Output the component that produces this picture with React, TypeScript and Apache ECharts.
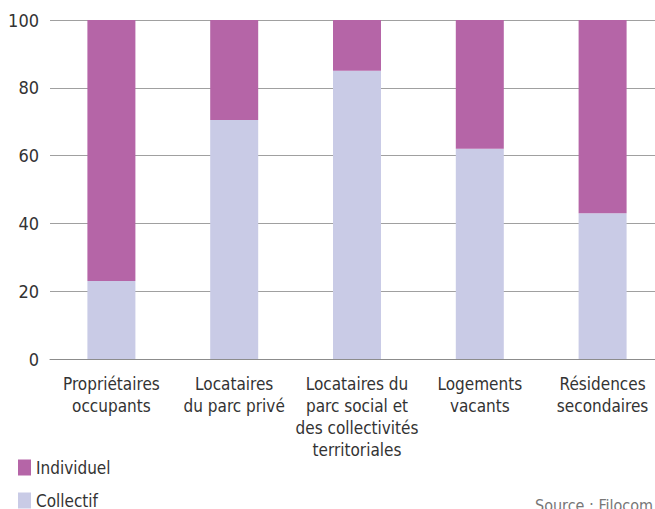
import React, { useEffect, useRef } from "react";
import * as echarts from "echarts";

const categories = [
  "Propriétaires\noccupants",
  "Locataires\ndu parc privé",
  "Locataires du\nparc social et\ndes collectivités\nterritoriales",
  "Logements\nvacants",
  "Résidences\nsecondaires",
];
const collectif = [23, 70.5, 85, 62, 43];
const individuel = [77, 29.5, 15, 38, 57];
const yTicks = [0, 20, 40, 60, 80, 100];

const FONT = "'DejaVu Sans Condensed', 'Liberation Sans Narrow', 'Open Sans', sans-serif";

export default function App() {
  const ref = useRef<HTMLDivElement>(null);
  useEffect(() => {
    if (!ref.current) return;
    const chart = echarts.init(ref.current, undefined, { renderer: "svg" });
    chart.setOption({
      animation: false,
      textStyle: { fontFamily: FONT },
      grid: { left: 50, top: 20, width: 614, height: 339, containLabel: false, outerBoundsMode: "none" },
      legend: {
        data: ["Individuel", "Collectif"],
        orient: "vertical",
        left: 18,
        top: 459,
        padding: 0,
        itemWidth: 13,
        itemHeight: 16,
        itemGap: 16,
        icon: "rect",
        textStyle: { fontFamily: FONT, fontSize: 17, color: "#333" },
      },
      xAxis: {
        type: "category",
        data: categories,
        axisTick: { show: false },
        axisLine: { lineStyle: { color: "#8c8c8c", width: 1 } },
        axisLabel: {
          interval: 0,
          fontFamily: FONT,
          fontSize: 17,
          lineHeight: 22,
          color: "#333",
          margin: 14,
        },
      },
      yAxis: {
        type: "value",
        min: 0,
        max: 100,
        interval: 20,
        axisLabel: {
          fontFamily: FONT,
          fontSize: 18,
          color: "#333",
          margin: 11,
          formatter: (v: number) => (yTicks.includes(v) ? String(v) : ""),
        },
        splitLine: { lineStyle: { color: "#a0a0a0", width: 1 } },
        axisLine: { show: false },
        axisTick: { show: false },
      },
      series: [
        {
          name: "Collectif",
          type: "bar",
          stack: "s",
          data: collectif,
          barWidth: 48,
          itemStyle: { color: "#C9CBE6" },
        },
        {
          name: "Individuel",
          type: "bar",
          stack: "s",
          data: individuel,
          barWidth: 48,
          itemStyle: { color: "#B565A7" },
        },
      ],
      graphic: [
        {
          type: "text",
          left: 535,
          top: 497,
          style: {
            text: "Source : Filocom",
            fontFamily: FONT,
            fontSize: 16,
            fill: "#777",
          },
        },
      ],
    });
    return () => chart.dispose();
  }, []);
  return <div ref={ref} style={{ width: 655, height: 509, position: "absolute", left: 0, top: 0 }} />;
}
